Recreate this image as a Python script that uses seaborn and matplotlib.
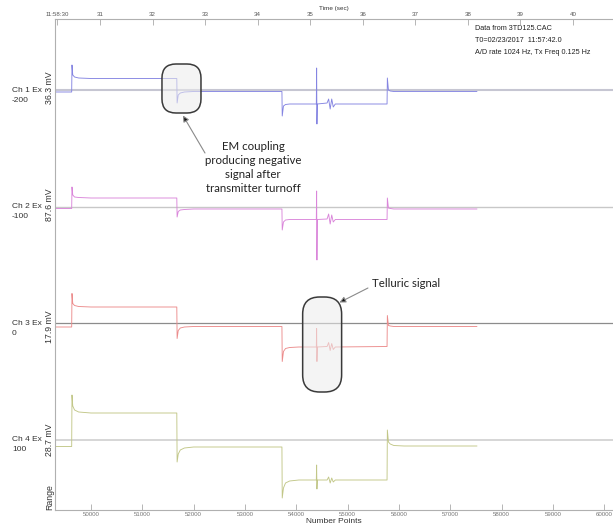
import numpy as np
import pandas as pd
import matplotlib
matplotlib.use("Agg")
import matplotlib.pyplot as plt
from matplotlib.patches import FancyBboxPatch
import seaborn as sns

# ---------------- data ----------------
channels = ["Ch 1 Ex", "Ch 2 Ex", "Ch 3 Ex", "Ch 4 Ex"]
tx_offsets = ["-200", "-100", "0", "100"]
ranges = ["36.3 mV", "87.6 mV", "17.9 mV", "28.7 mV"]
baseline_rows = [90, 207, 323.5, 440]           # trace reference level (row units)
range_label_rows = [88, 205, 327, 440]

# sample index of trace vertices (Number Points)
points = [49300, 49624, 49630, 49645, 49680, 49760, 50000,
          51672, 51678, 51700, 51740, 51820, 52000,
          53720, 53726, 53750, 53790, 53870, 54050,
          54390, 54396, 54402, 54410,
          54600, 54630, 54660, 54690, 54720, 54760,
          55768, 55774, 55795, 55830, 55900, 56100, 57520]

# deviation from reference level (display units, up positive)
ch1 = [-2, -2, 25, 15, 13, 12, 11.5,
       11.5, -13, -5, -3, -2, -1.5,
       -1.5, -26, -16, -14.5, -14, -14,
       -14, 22, -34, -14,
       -13, -9, -19, -9, -17, -14,
       -14, 12, 0, -1, -1.5, -1.5, -1.5]
ch2 = [-1.5, -1.5, 20, 12, 10, 9.5, 9,
       9, -10, -4.5, -3, -2.5, -2,
       -2, -23, -15, -13, -12.5, -12.5,
       -12.5, 16, -53, -12.5,
       -12, -7, -17, -8, -15, -12.5,
       -12.5, 9, -1, -1.5, -2, -2, -2]
ch3 = [-3.5, -3.5, 30, 20, 18, 17, 16.5,
       16.5, -15, -7, -4.5, -3.5, -3,
       -3, -38, -28, -25, -24, -23.5,
       -23.5, -5, -38, -23.5,
       -23, -19, -27, -20, -26, -23.5,
       -23, 8, -2, -2.5, -3, -3, -3]
ch4 = [-6.5, -6.5, 45, 34, 30, 28, 27,
       27, -22, -14, -10, -8, -7,
       -7, -58, -48, -43, -41, -40,
       -40, -25, -49, -40,
       -40, -37, -43, -38, -42, -40,
       -40, 10, -2, -4, -5.5, -6, -6]
traces = [ch1, ch2, ch3, ch4]

bottom_ticks = [50000, 51000, 52000, 53000, 54000, 55000, 56000, 57000, 58000, 59000, 60000]
top_tick_pos = [49338, 50175, 51199, 52223, 53247, 54271, 55295, 56319, 57343, 58367, 59391]
top_tick_lab = ["11:58:30", "31", "32", "33", "34", "35", "36", "37", "38", "39", "40"]

info_lines = ["Data from 3TD125.CAC", "T0=02/23/2017  11:57:42.0",
              "A/D rate 1024 Hz, Tx Freq 0.125 Hz"]

colors = ["#8585e2", "#da86da", "#ec8c8c", "#c2c788"]
base_colors = ["#c6c6d2", "#c8c8c8", "#8c8c8c", "#d0d0d0"]
base_lw = [1.5, 1.0, 0.9, 1.2]

# ---------------- build long table ----------------
rows = []
for name, base, dev in zip(channels, baseline_rows, traces):
    for p, d in zip(points, dev):
        rows.append({"point": p, "row": base - d, "channel": name})
df = pd.DataFrame(rows)

# ---------------- figure ----------------
sns.set_theme(style="white")
plt.rcParams["font.family"] = ["Liberation Sans", "DejaVu Sans"]

W, H = 613, 529
fig = plt.figure(figsize=(W / 100, H / 100), dpi=100)
ax = fig.add_axes([55 / W, (H - 510) / H, (W - 55) / W, (510 - 19) / H])

XMIN, XMAX = 49299, 60170
YTOP, YBOT = 19, 510

for base, c, lw in zip(baseline_rows, base_colors, base_lw):
    ax.axhline(base, color=c, lw=lw, zorder=1)

sns.lineplot(data=df, x="point", y="row", hue="channel", palette=dict(zip(channels, colors)),
             estimator=None, sort=False, legend=False, lw=0.65, ax=ax, zorder=2)

ax.set_xlim(XMIN, XMAX)
ax.set_ylim(YBOT, YTOP)
ax.set_yticks([])
ax.set_ylabel("")
ax.set_xticks(bottom_ticks)
ax.set_xticklabels([str(t) for t in bottom_ticks])
ax.tick_params(axis="x", direction="in", length=4, width=0.6, color="#aaaaaa",
               labelsize=4.4, labelcolor="#777777", pad=1.8, bottom=True)
ax.set_xlabel("Number Points", fontsize=6, color="#333333", labelpad=0.5)
for s in ["left", "bottom", "top"]:
    ax.spines[s].set_color("#b0b0b0")
    ax.spines[s].set_linewidth(0.8)
ax.spines["right"].set_visible(False)
ax.spines["top"].set_visible(False)

ax2 = ax.twiny()
ax2.set_xlim(XMIN, XMAX)
ax2.set_xticks(top_tick_pos)
ax2.set_xticklabels(top_tick_lab)
ax2.tick_params(axis="x", direction="in", length=4, width=0.6, color="#aaaaaa",
                labelsize=4.4, labelcolor="#555555", pad=1.2)
ax2.set_xlabel("Time (sec)", fontsize=4.6, color="#333333", labelpad=1.5)
for s in ["left", "bottom", "right"]:
    ax2.spines[s].set_visible(False)
ax2.spines["top"].set_color("#b0b0b0")
ax2.spines["top"].set_linewidth(0.8)

# channel labels
XL = 48461   # left label column
XR = 49201   # range label column
for name, off, rng, base, rrow in zip(channels, tx_offsets, ranges, baseline_rows, range_label_rows):
    ax.text(XL, base, name, fontsize=6, color="#333333", ha="left", va="center", clip_on=False)
    ax.text(XL, base + 10, off, fontsize=6, color="#333333", ha="left", va="center", clip_on=False)
    ax.text(XR, rrow, rng, fontsize=6.3, color="#333333", ha="center", va="center",
            rotation=90, clip_on=False)
ax.text(XR, 497, "Range", fontsize=6.3, color="#333333", ha="center", va="center",
        rotation=90, clip_on=False)

# info text
for i, line in enumerate(info_lines):
    ax.text(57481, 29 + 11.8 * i, line, fontsize=5.2, color="#222222", ha="left", va="center")

# annotation boxes
px = (XMAX - XMIN) / (W - 55)   # data units per pixel horizontally
def rounded_box(x0, x1, y0, y1, r):
    patch = FancyBboxPatch((x0, y0), x1 - x0, y1 - y0,
                           boxstyle=f"round,pad=0,rounding_size={r * px}",
                           mutation_aspect=1 / px, facecolor="#ececec", alpha=0.55,
                           edgecolor="none", zorder=3)
    edge = FancyBboxPatch((x0, y0), x1 - x0, y1 - y0,
                          boxstyle=f"round,pad=0,rounding_size={r * px}",
                          mutation_aspect=1 / px, facecolor="none",
                          edgecolor="#3a3a3a", lw=1.1, zorder=4)
    ax.add_patch(patch)
    ax.add_patch(edge)

rounded_box(51383, 52143, 64, 113, 14)
rounded_box(54124, 54883, 297, 392, 17)

afont = ["Lato", "DejaVu Sans"]
ax.annotate("", xy=(51792, 115.5), xytext=(52221, 153),
            arrowprops=dict(arrowstyle="-|>", edgecolor="#8a8a8a", facecolor="#111111",
                            lw=0.8, mutation_scale=9, shrinkA=0, shrinkB=0), zorder=5)
ax.text(53156, 167.5, "EM coupling\nproducing negative\nsignal after\ntransmitter turnoff",
        fontsize=8.3, family=afont, color="#222222", ha="center", va="center",
        multialignment="center", linespacing=1.33, zorder=5)

ax.annotate("", xy=(54840, 302.5), xytext=(55396, 288),
            arrowprops=dict(arrowstyle="-|>", edgecolor="#8a8a8a", facecolor="#111111",
                            lw=0.8, mutation_scale=9, shrinkA=0, shrinkB=0), zorder=5)
ax.text(55468, 284, "Telluric signal", fontsize=8.2, family=afont, color="#222222",
        ha="left", va="center", zorder=5)

fig.savefig("out.png", dpi=100)
